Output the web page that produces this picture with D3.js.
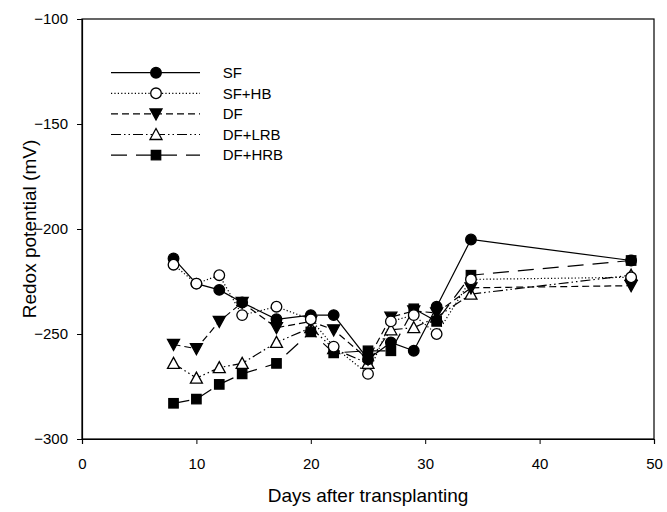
<!DOCTYPE html>
<html>
<head>
<meta charset="utf-8">
<script src="https://cdn.jsdelivr.net/npm/d3@7"></script>
<style>
  body { margin: 0; background: #fff; }
  text { font-family: "Liberation Sans", Arial, sans-serif; fill: #000; }
</style>
</head>
<body>
<div id="chart"></div>
<script>
// values
var days = [8, 10, 12, 14, 17, 20, 22, 25, 27, 29, 31, 34, 48];
var sf    = [-214, -226, -229, -235, -243, -241, -241, -262, -254, -258, -237, -205, -215];
var sfhb  = [-217, -226, -222, -241, -237, -243, -256, -269, -244, -241, -250, -224, -223];
var df    = [-255, -257, -244, -235, -247, -244, -248, -262, -242, -239, -240, -228, -227];
var dflrb = [-264, -271, -266, -264, -254, -247, -257, -264, -248, -247, -242, -231, -222];
var dfhrb = [-283, -281, -274, -269, -264, -249, -259, -258, -258, -238, -244, -222, -215];

var seriesNames = ["SF", "SF+HB", "DF", "DF+LRB", "DF+HRB"];
var xTicks = [0, 10, 20, 30, 40, 50];
var yTicks = [-100, -150, -200, -250, -300];

var series = [
    {name: seriesNames[0], vals: sf,    dash: null,                 sym: "circle",   fill: "#000"},
    {name: seriesNames[1], vals: sfhb,  dash: "1.2,2.2",            sym: "circle",   fill: "#fff"},
    {name: seriesNames[2], vals: df,    dash: "7,4",                sym: "triDown",  fill: "#000"},
    {name: seriesNames[3], vals: dflrb, dash: "10,3,1.5,3,1.5,3",   sym: "triUp",    fill: "#fff"},
    {name: seriesNames[4], vals: dfhrb, dash: "16,9",               sym: "square",   fill: "#000"}
];
// order the markers get painted in (last one ends up on top)
var paintOrder = [3, 2, 4, 0, 1];

var W = 667, H = 512;
var margin = {top: 19, right: 13, bottom: 73, left: 82};
var width = W - margin.left - margin.right,
    height = H - margin.top - margin.bottom;

var svg = d3.select("#chart").append("svg")
    .attr("width", W)
    .attr("height", H);

var g = svg.append("g")
    .attr("transform", "translate(" + margin.left + "," + margin.top + ")");

var x = d3.scaleLinear().domain([0, 50]).range([0, width]);
var y = d3.scaleLinear().domain([-300, -100]).range([height, 0]);

// frame
g.append("rect")
    .attr("width", width).attr("height", height)
    .attr("fill", "none").attr("stroke", "#000").attr("stroke-width", 1.2);

var xAxis = g.append("g")
    .attr("transform", "translate(0," + height + ")")
    .call(d3.axisBottom(x).tickValues(xTicks).tickSize(5).tickPadding(14).tickFormat(d3.format("d")));
var yAxis = g.append("g")
    .call(d3.axisLeft(y).tickValues(yTicks).tickSize(5).tickPadding(9).tickFormat(d3.format("d")));

[xAxis, yAxis].forEach(function(a) {
    a.select(".domain").attr("stroke-width", 1.2);
    a.selectAll("text").style("font-size", "15px").attr("fill", "#000");
    a.selectAll("line").attr("stroke-width", 1);
});

// symbols
function drawSymbol(sel, sym, fill) {
    if (sym == "circle") {
        sel.append("circle").attr("r", 5.3);
    } else if (sym == "square") {
        sel.append("rect").attr("x", -4.7).attr("y", -4.7).attr("width", 9.4).attr("height", 9.4);
    } else if (sym == "triDown") {
        sel.append("path").attr("d", "M-6,-5L6,-5L0,6Z");
    } else if (sym == "triUp") {
        sel.append("path").attr("d", "M0,-6L6,5L-6,5Z");
    }
    sel.selectAll("*").attr("fill", fill).attr("stroke", "#000").attr("stroke-width", 1.3);
}

var line = d3.line()
    .x(function(d, i) { return x(days[i]); })
    .y(function(d) { return y(d); });

series.forEach(function(s) {
    g.append("path")
        .datum(s.vals)
        .attr("d", line)
        .attr("fill", "none")
        .attr("stroke", "#000")
        .attr("stroke-width", 1.2)
        .attr("stroke-dasharray", s.dash);
});

// markers after all lines so lines sit underneath
paintOrder.forEach(function(k) {
    var s = series[k];
    g.selectAll(null)
        .data(s.vals)
        .enter().append("g")
        .attr("transform", function(d, i) { return "translate(" + x(days[i]) + "," + y(d) + ")"; })
        .each(function() { drawSymbol(d3.select(this), s.sym, s.fill); });
});

// legend
var legend = svg.append("g").attr("transform", "translate(111,72.7)");
series.forEach(function(s, i) {
    var row = legend.append("g").attr("transform", "translate(0," + (i * 20.6) + ")");
    row.append("line")
        .attr("x1", 0).attr("x2", 89)
        .attr("stroke", "#000").attr("stroke-width", 1.2)
        .attr("stroke-dasharray", s.dash);
    var m = row.append("g").attr("transform", "translate(45,0)");
    drawSymbol(m, s.sym, s.fill);
    row.append("text")
        .attr("x", 111.7).attr("y", 5.3)
        .style("font-size", "15px")
        .text(s.name);
});

// axis titles
svg.append("text")
    .attr("x", margin.left + width / 2).attr("y", 502)
    .attr("text-anchor", "middle")
    .style("font-size", "19px")
    .text("Days after transplanting");

svg.append("text")
    .attr("transform", "translate(36," + (margin.top + height / 2) + ") rotate(-90)")
    .attr("text-anchor", "middle")
    .style("font-size", "19px")
    .text("Redox potential (mV)");
</script>
</body>
</html>
